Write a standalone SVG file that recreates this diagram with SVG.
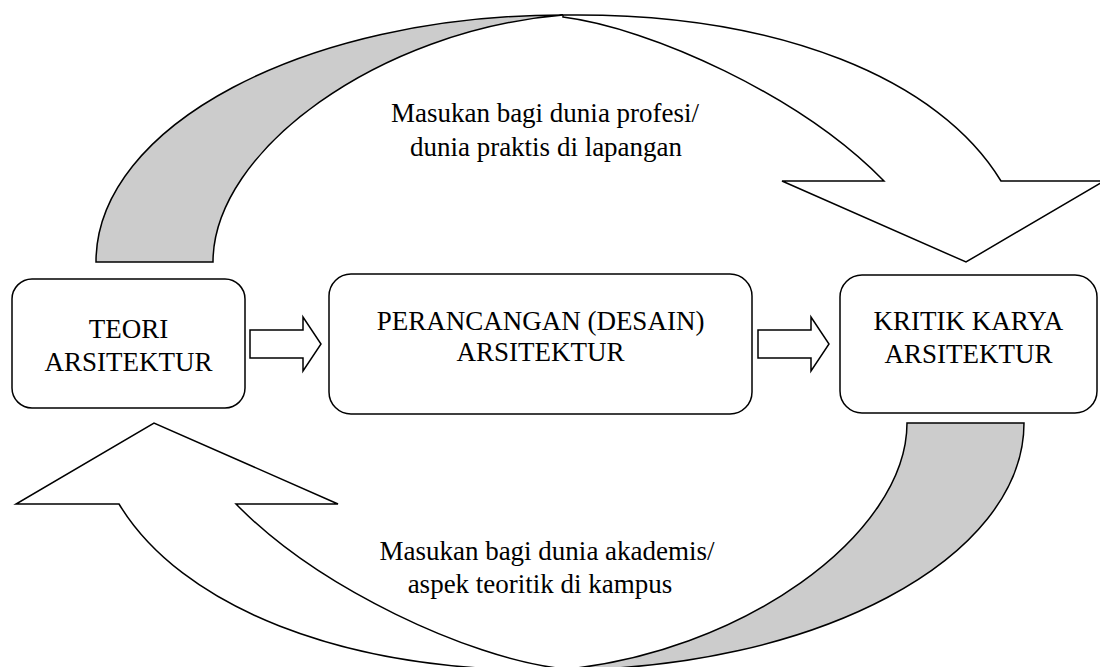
<svg xmlns="http://www.w3.org/2000/svg" width="1100" height="667" viewBox="0 0 1100 667">
<defs>
<style>
.box{fill:#fff;stroke:#000;stroke-width:1.5}
.arr{fill:#fff;stroke:#000;stroke-width:1.5;stroke-linejoin:miter}
.band{fill:#cccccc;stroke:#000;stroke-width:1.5}
</style>
<g id="curved">
<path class="band" d="M96,262 C96,126 305,15 563,15 C380,30 213,150 213,262 Z"/>
<path class="arr" d="M563,15 C780,12 940,80 1001,181 L1104,181 L966,262 L782,181 L884,181 C800,95 650,28 563,17 Z"/>
</g>
</defs>
<rect width="1100" height="667" fill="#fff"/>
<g id="connectors">
<use href="#curved"/>
<use href="#curved" transform="rotate(180 560 342.5)"/>
<path class="arr" d="M250,330 L303,330 L303,317 L321,344 L303,371 L303,358 L250,358 Z"/>
<path class="arr" d="M758,330 L811,330 L811,317 L829,344 L811,371 L811,358 L758,358 Z"/>
</g>
<g font-family="Liberation Serif, Times New Roman, serif" font-size="27" text-anchor="middle" fill="#000">
<g id="label-top">
<text x="545" y="122">Masukan bagi dunia profesi/</text>
<text x="546" y="156">dunia praktis di lapangan</text>
</g>
<g id="label-bottom">
<text x="547" y="560">Masukan bagi dunia akademis/</text>
<text x="540" y="593">aspek teoritik di kampus</text>
</g>
<g id="node-teori">
<rect class="box" x="12" y="279" width="233" height="129" rx="20"/>
<text x="128.5" y="338">TEORI</text>
<text x="128.5" y="371">ARSITEKTUR</text>
</g>
<g id="node-perancangan">
<rect class="box" x="329" y="274" width="423" height="140" rx="22"/>
<text x="540.5" y="330">PERANCANGAN (DESAIN)</text>
<text x="540.5" y="361">ARSITEKTUR</text>
</g>
<g id="node-kritik">
<rect class="box" x="840" y="275" width="257" height="138" rx="22"/>
<text x="968.5" y="330">KRITIK KARYA</text>
<text x="968.5" y="363">ARSITEKTUR</text>
</g>
</g>
</svg>
